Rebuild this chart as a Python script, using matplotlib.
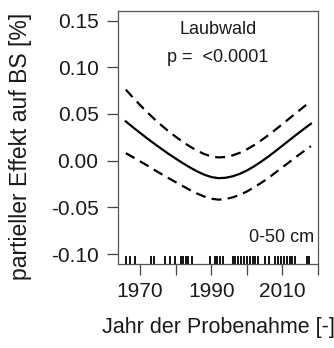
import matplotlib
matplotlib.use("Agg")
from matplotlib import pyplot as plt
import numpy as np

plt.rcParams['font.family'] = ['Liberation Sans', 'DejaVu Sans']

# fitted smooth term (partial effect) and its confidence band
years = [1966, 1968, 1970, 1972, 1974, 1976, 1978, 1980, 1982, 1984, 1986,
         1988, 1990, 1992, 1994, 1996, 1998, 2000, 2002, 2004, 2006, 2008,
         2010, 2012, 2014, 2016, 2018]
fit = [0.0420, 0.0357, 0.0297, 0.0238, 0.0181, 0.0126, 0.0072, 0.0022,
       -0.0027, -0.0073, -0.0115, -0.0150, -0.0176, -0.0188, -0.0184,
       -0.0168, -0.0142, -0.0106, -0.0062, -0.0012, 0.0042, 0.0100, 0.0160,
       0.0220, 0.0280, 0.0338, 0.0395]
upper = [0.0760, 0.0675, 0.0595, 0.0518, 0.0446, 0.0378, 0.0314, 0.0256,
         0.0201, 0.0151, 0.0107, 0.0071, 0.0045, 0.0034, 0.0039, 0.0056,
         0.0083, 0.0120, 0.0165, 0.0216, 0.0271, 0.0330, 0.0391, 0.0453,
         0.0515, 0.0576, 0.0635]
lower = [0.0080, 0.0037, -0.0008, -0.0052, -0.0099, -0.0144, -0.0188,
         -0.0230, -0.0273, -0.0314, -0.0352, -0.0384, -0.0408, -0.0418,
         -0.0412, -0.0394, -0.0367, -0.0331, -0.0288, -0.0239, -0.0187,
         -0.0130, -0.0072, -0.0014, 0.0044, 0.0100, 0.0155]

# sampling years (rug)
rug = [1966, 1967.3, 1968.5, 1973, 1974, 1977.0, 1978.4, 1979.8, 1981.4,
       1982.1, 1982.9, 1983.6, 1984.5, 1989.6, 1991.0, 1991.7, 1992.4, 1993.2,
       1996.0, 1996.8, 1997.6, 1998.4, 1999.2, 2000.0, 2000.8, 2001.6, 2002.4,
       2003.2, 2005.2, 2006.2, 2008.0, 2008.8, 2009.6, 2010.4, 2011.2, 2012.0,
       2012.8, 2013.6, 2016.8, 2017.6]

xticks = [1970, 1980, 1990, 2000, 2010, 2020]
xticklabels = ['1970', '', '1990', '', '2010', '']
yticks = [0.15, 0.10, 0.05, 0.00, -0.05, -0.10]

fig = plt.figure(figsize=(3.34, 3.48), dpi=100)
ax = fig.add_axes([0.3533, 0.2414, 0.5988, 0.7278])

ax.plot(years, fit, color='black', lw=1.6)
ax.plot(years, upper, color='black', lw=1.6, dashes=(4.5, 2.8))
ax.plot(years, lower, color='black', lw=1.6, dashes=(4.5, 2.8))

ax.vlines(rug, 0, 0.03, color='black', lw=1.3,
          transform=ax.get_xaxis_transform())

ax.set_xlim(1963.8, 2020.0)
ax.set_ylim(-0.1107, 0.1605)

ax.set_xticks(xticks)
ax.set_xticklabels(xticklabels)
ax.set_yticks(yticks)
ax.set_yticklabels(['%.2f' % v for v in yticks])

ax.tick_params(axis='both', direction='out', length=8, width=0.9,
               color='#444444', labelsize=15, labelcolor='#1a1a1a')
ax.tick_params(axis='y', pad=6)
ax.tick_params(axis='x', pad=5)

for s in ax.spines.values():
    s.set_color('#555555')
    s.set_linewidth(0.9)

ax.text(0.5, 0.925, 'Laubwald', transform=ax.transAxes, ha='center',
        va='center', fontsize=13, color='#1a1a1a')
ax.text(0.5, 0.815, 'p =  <0.0001', transform=ax.transAxes, ha='center',
        va='center', fontsize=13, color='#1a1a1a')
ax.text(0.98, 0.105, '0-50 cm', transform=ax.transAxes, ha='right',
        va='center', fontsize=13, color='#1a1a1a')

ax.set_ylabel('partieller Effekt auf BS [%]', fontsize=16.5, color='#1a1a1a')
ax.yaxis.set_label_coords(-0.43, 0.465)
ax.set_xlabel('Jahr der Probenahme [-]', fontsize=15.5, color='#1a1a1a')
ax.xaxis.set_label_coords(0.5, -0.21)

fig.savefig('out.png', dpi=100)
